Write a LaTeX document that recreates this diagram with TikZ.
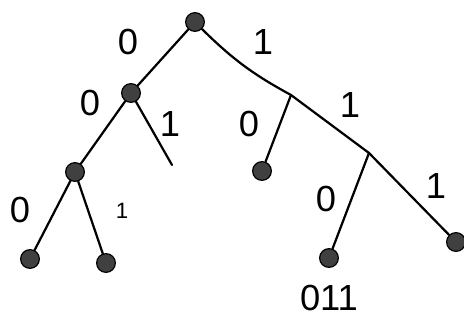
\documentclass[tikz,border=0pt]{standalone}
\usepackage{fontspec}
\setmainfont{Liberation Sans}
\begin{document}
\begin{tikzpicture}[x=0.03cm,y=-0.03cm, line join=round, line cap=round,
	font=\fontsize{31}{35}\selectfont,
	leaf/.style={circle,fill=black!75,draw=black,line width=1pt,inner sep=0pt,minimum size=16pt},
	edge/.style={line width=1.9pt}]
	\useasboundingbox (0,0) rectangle (464,333);
	% nodes of the tree
	\node[leaf] (n) at (195,22) {};
	\node[leaf] (n0) at (131,93) {};
	\node[leaf] (n00) at (75,172) {};
	\node[leaf] (n000) at (30,259) {};
	\node[leaf] (n001) at (106,263) {};
	\coordinate (n01) at (172,165);
	\coordinate (n1) at (291,95);
	\node[leaf] (n10) at (262,171) {};
	\coordinate (n11) at (369,153);
	\node[leaf] (n110) at (329,258) {};
	\node[leaf] (n111) at (456,242) {};
	% edges
	\draw[edge] (n)--(n0);
	\draw[edge] (n0)--(n00);
	\draw[edge] (n0)--(n01);
	\draw[edge] (n00)--(n000);
	\draw[edge] (n00)--(n001);
	\draw[edge] (n) to[bend right=8] (n1);
	\draw[edge] (n1)--(n10);
	\draw[edge] (n1)--(n11);
	\draw[edge] (n11)--(n110);
	\draw[edge] (n11)--(n111);
	% labels
	\node at (128,42) {0};
	\node at (90,103) {0};
	\node at (170,124) {1};
	\node at (20,210) {0};
	\node[font=\fontsize{19}{22}\selectfont] at (122,211) {1};
	\node at (263,42) {1};
	\node at (249,124) {0};
	\node at (350,105) {1};
	\node at (326,199) {0};
	\node at (436,186) {1};
	\node at (329,298) {011};
\end{tikzpicture}
\end{document}
